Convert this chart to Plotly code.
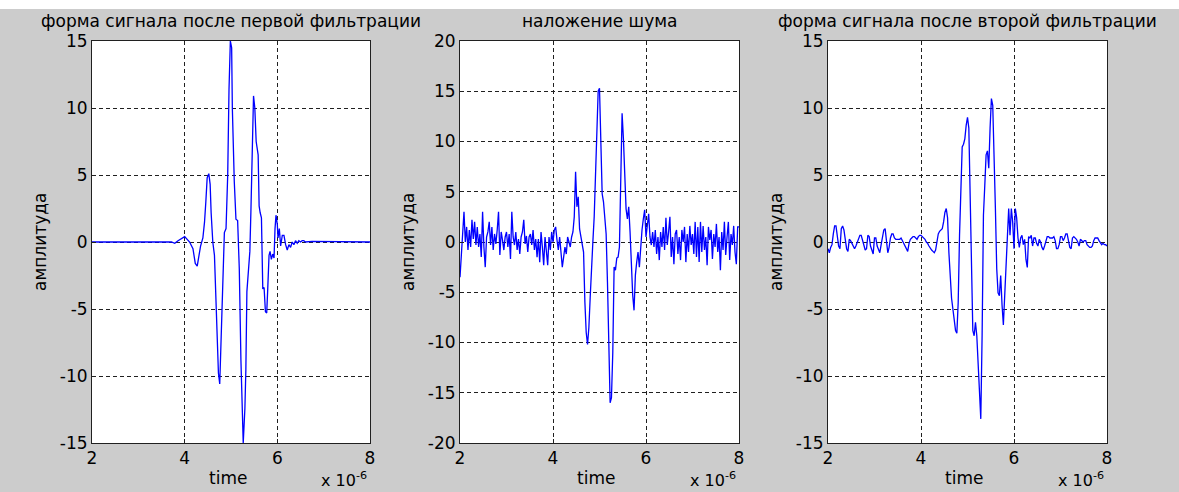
import plotly.graph_objects as go
import numpy as np

# ---------------- data (time in microseconds, x 10^-6 s) ----------------
titles = ["форма сигнала после первой фильтрации", "наложение шума",
          "форма сигнала после второй фильтрации"]
x_label = "time"
y_label = "амплитуда"
x_ticks = [2, 4, 6, 8]
y_ticks_15 = [-15, -10, -5, 0, 5, 10, 15]
y_ticks_20 = [-20, -15, -10, -5, 0, 5, 10, 15, 20]

# panel 1: signal after first filtering
t1 = [2.0, 3.714, 3.786, 3.857, 4.000, 4.107, 4.179, 4.229, 4.271, 4.300, 4.343,
      4.393, 4.429, 4.457, 4.486, 4.521, 4.550, 4.571, 4.607, 4.643, 4.686,
      4.729, 4.757, 4.786, 4.821, 4.857, 4.893, 4.929, 4.957, 4.986, 5.014,
      5.029, 5.071, 5.107, 5.143, 5.179, 5.214, 5.236, 5.264, 5.300, 5.321,
      5.343, 5.371, 5.407, 5.429, 5.464, 5.486, 5.514, 5.543, 5.586, 5.607,
      5.629, 5.657, 5.686, 5.714, 5.743, 5.771, 5.793, 5.821, 5.843, 5.871,
      5.900, 5.929, 5.950, 5.971, 6.000, 6.014, 6.043, 6.071, 6.107, 6.143,
      6.179, 6.214, 6.250, 6.286, 6.321, 6.357, 6.393, 6.429, 6.464, 6.500,
      6.536, 6.571, 6.607, 6.750, 8.0]
v1 = [0.0, 0.0, -0.1, 0.1, 0.4, 0.0, -0.5, -1.6, -1.8, -1.2, -0.3,
      0.3, 1.5, 3.0, 4.8, 5.1, 4.3, 2.2, 0.0, -1.0, -6.3,
      -9.8, -10.6, -7.0, -2.6, 0.7, 1.0, 5.0, 11.4, 15.0, 14.5,
      10.0, 4.5, 1.7, 1.6, -2.0, -8.8, -12.0, -15.0, -12.4, -9.5,
      -3.7, -2.5, -0.7, 2.2, 7.8, 10.9, 10.0, 7.5, 6.5, 2.7,
      2.2, 1.8, -3.5, -3.4, -5.2, -5.3, -3.5, -1.0, -0.7, -1.3,
      -0.9, -1.2, 1.0, 2.0, 1.3, 0.3, 1.0, -0.3, 0.5, 0.5,
      -0.2, -0.6, -0.2, -0.4, 0.0, -0.2, 0.1, -0.1, 0.1, 0.0,
      0.1, 0.1, 0.0, 0.05, 0.0]

# panel 2: noisy signal, sampled on a uniform grid from 2 to 8
v2 = [-3.5, -1.0, 0.5, 3.0, 0.0, 1.5, -0.8, 1.2, -0.5, 2.2,
      0.3, 2.0, -0.3, 1.5, -0.5, 0.8, -1.5, 3.0, -0.5, -2.5,
      0.5, 1.0, 2.0, -0.3, 1.5, -0.8, 0.8, -0.2, 1.2, 3.0,
      -1.3, 1.0, 0.2, -0.8, 0.5, 1.0, -0.5, 0.8, -1.7, 3.0,
      0.5, -0.3, 1.0, -0.8, 0.3, -1.2, 0.5, 1.0, 2.2, -0.2,
      0.6, -1.0, 0.5, 0.8, -0.3, 1.2, -0.8, 0.3, -1.5, 0.3,
      -2.0, 1.0, -0.5, -2.3, 0.5, -1.0, -2.3, 0.5, -0.8, 1.0,
      0.0, 1.2, 1.5, 0.2, -0.8, 0.5, -1.0, -2.5, -1.5, -0.5,
      -1.2, 0.5, 0.0, -0.5, 0.5, 1.0, 2.5, 7.0, 3.5, 4.5,
      1.3, 0.5, -0.5, -1.0, -6.0, -9.0, -10.2, -8.5, -5.5, -2.0,
      0.0, 2.5, 6.0, 11.2, 15.0, 15.3, 10.0, 4.8, 4.0, 2.5,
      0.8, -4.0, -8.8, -16.0, -15.5, -11.0, -2.5, -2.8, -1.6, -1.5,
      -0.5, 8.5, 12.8, 10.3, 5.8, 3.3, 2.3, 3.5, 1.0, -3.0,
      -5.3, -6.8, -3.3, -2.0, -1.0, -2.5, 0.0, 1.2, 2.3, 3.2,
      0.5, 1.5, 2.8, 0.5, -0.3, 1.0, -0.5, 1.2, -1.2, 0.5,
      -1.8, 1.0, -0.5, 1.5, -0.8, 2.4, -0.3, 1.0, 2.5, -1.5,
      0.5, -2.2, 0.8, 1.2, -1.2, 0.5, -1.8, 1.2, 0.0, 1.5,
      -2.0, 0.8, -1.0, 1.6, -0.3, 0.8, -1.2, 2.0, -1.5, 1.5,
      -2.0, 2.0, -1.0, 1.6, -0.8, 0.5, -2.3, 1.5, 0.2, 1.2,
      -1.7, 0.8, -0.5, 1.8, -1.0, 0.5, -2.8, 1.0, -0.8, 2.0,
      -1.3, 0.5, 2.0, -1.8, 0.8, -0.3, 1.6, -1.0, -2.2, 1.5,
      1.5]

# panel 3: signal after second filtering, uniform grid from 2 to 8
v3 = [-0.5, -0.8, -0.4, -0.2, 0.6, 1.2, 1.2, 0.3, -0.3, -0.5,
      1.0, 1.2, 0.9, 0.2, -0.5, -0.7, 0.2, 0.1, -0.1, -0.3,
      -0.5, -0.3, 0.0, 0.3, 0.5, 0.5, 0.1, -0.4, -0.6, -0.5,
      0.5, 0.4, -0.3, -0.6, -0.9, 0.3, 0.3, -0.3, -0.6, -0.8,
      -0.2, 0.4, 0.9, 1.0, 0.2, -0.8, -0.4, 0.3, 0.6, 0.6,
      0.3, 0.2, 0.2, 0.2, 0.2, 0.3, 0.1, 0.0, -0.2, -0.5,
      -0.7, -0.1, 0.2, 0.3, 0.4, 0.4, 0.3, 0.2, 0.4, 0.5,
      0.5, 0.4, 0.3, 0.2, 0.0, -0.1, -0.3, -0.5, -0.6, -0.7,
      -0.8, -0.6, -0.1, 0.6, 0.8, 0.9, 1.0, 1.5, 2.2, 2.5,
      1.8, -0.8, -3.0, -4.2, -5.0, -5.7, -6.6, -6.8, -4.5, 0.5,
      4.5, 7.1, 7.3, 7.7, 8.7, 9.3, 8.5, 4.0, -1.0, -6.6,
      -7.0, -6.0, -7.0, -9.3, -10.5, -13.2, -7.0, 2.0, 4.2, 6.5,
      6.8, 5.5, 8.5, 10.7, 10.2, 7.0, 2.5, -2.0, -3.8, -4.0,
      -2.5, -4.7, -6.2, -4.0, -2.0, 0.5, 2.5, 0.5, 2.5, 1.5,
      -0.5, 2.5, 1.8, 0.3, -0.4, 0.3, 0.5, -0.2, 0.2, -1.3,
      -1.9, 0.4, 0.3, 0.5, -0.3, 0.3, 0.3, -0.1, -0.3, 0.2,
      0.0, -0.4, -0.6, -0.3, 0.1, 0.4, 0.4, 0.3, 0.3, 0.3,
      0.4, 0.1, -0.5, -0.5, -0.2, 0.4, 0.4, 0.1, 0.3, 0.6,
      0.6, 0.1, -0.4, -0.5, 0.3, 0.4, 0.3, 0.2, 0.0, -0.3,
      0.2, 0.1, 0.0, 0.1, 0.1, -0.2, -0.3, -0.4, -0.4, -0.3,
      0.1, 0.3, 0.3, 0.3, 0.1, -0.1, -0.2, -0.1, -0.2, -0.2,
      -0.3]

t2 = np.linspace(2, 8, len(v2))
t3 = np.linspace(2, 8, len(v3))

# ---------------- layout geometry ----------------
W, H = 1179, 492
FONT = "DejaVu Sans"
FS = 17
BG = "#cccccc"

panels_px = [(92, 370), (460, 739), (828, 1107)]
top_px, bot_px = 41, 443
ydom = [1 - bot_px / H, 1 - top_px / H]

series = [(t1, v1, y_ticks_15), (list(t2), v2, y_ticks_20), (list(t3), v3, y_ticks_15)]

fig = go.Figure()
annotations = []
for i, ((l, r), (tx, vy, yt)) in enumerate(zip(panels_px, series)):
    n = "" if i == 0 else str(i + 1)
    fig.add_trace(go.Scatter(x=tx, y=vy, mode="lines",
                             line=dict(color="#0000ff", width=1.3),
                             xaxis="x" + n, yaxis="y" + n, showlegend=False,
                             hoverinfo="skip"))
    axcommon = dict(showline=True, mirror=True, linecolor="#202020", linewidth=1,
                    showgrid=True, gridcolor="#202020", gridwidth=1,
                    griddash="4px,3px", zeroline=False, ticks="inside",
                    ticklen=4, tickcolor="#202020", automargin=False,
                    tickfont=dict(family=FONT, size=FS, color="#000000"))
    fig.update_layout(**{
        "xaxis" + n: dict(domain=[l / W, r / W], range=[2, 8], anchor="y" + n,
                          tickvals=x_ticks, ticktext=[str(v) for v in x_ticks],
                          **axcommon),
        "yaxis" + n: dict(domain=ydom, range=[yt[0], yt[-1]], anchor="x" + n,
                          tickvals=yt, ticktext=[str(v) for v in yt],
                          **axcommon),
    })
    cx = (l + r) / 2 / W
    annotations.append(dict(text=titles[i], x=cx, y=1 - 21 / H, xref="paper", yref="paper",
                            xanchor="center", yanchor="middle", showarrow=False,
                            font=dict(family=FONT, size=FS, color="#000000")))
    annotations.append(dict(text=x_label, x=(l + 136) / W, y=1 - 478 / H, xref="paper",
                            yref="paper", xanchor="center", yanchor="middle",
                            showarrow=False, font=dict(family=FONT, size=FS, color="#000000")))
    annotations.append(dict(text=y_label, x=(l - 52) / W, y=1 - 242 / H, xref="paper",
                            yref="paper", xanchor="center", yanchor="middle",
                            textangle=-90, showarrow=False,
                            font=dict(family=FONT, size=FS, color="#000000")))
    annotations.append(dict(text="x 10<sup>-6</sup>", x=(r - 1) / W, y=0.5 / H,
                            xref="paper", yref="paper", xanchor="right", yanchor="bottom",
                            showarrow=False, font=dict(family=FONT, size=FS - 1, color="#000000")))

fig.update_layout(
    width=W, height=H, autosize=False,
    margin=dict(l=0, r=0, t=0, b=0, pad=0, autoexpand=False),
    paper_bgcolor=BG, plot_bgcolor="#ffffff",
    annotations=annotations,
    shapes=[dict(type="rect", xref="paper", yref="paper", x0=0, x1=1,
                 y0=1 - 9 / H, y1=1.0, fillcolor="#ffffff", line=dict(width=0),
                 layer="above")],
)

post = ("var s=document.createElement('style');"
        "s.innerHTML='html,body{margin:0 !important;padding:0 !important;overflow:hidden;}';"
        "document.head.appendChild(s);"
        "document.documentElement.style.margin='0';document.body.style.margin='0';")

fig.write_html("out.html", config={"displayModeBar": False}, post_script=post)
